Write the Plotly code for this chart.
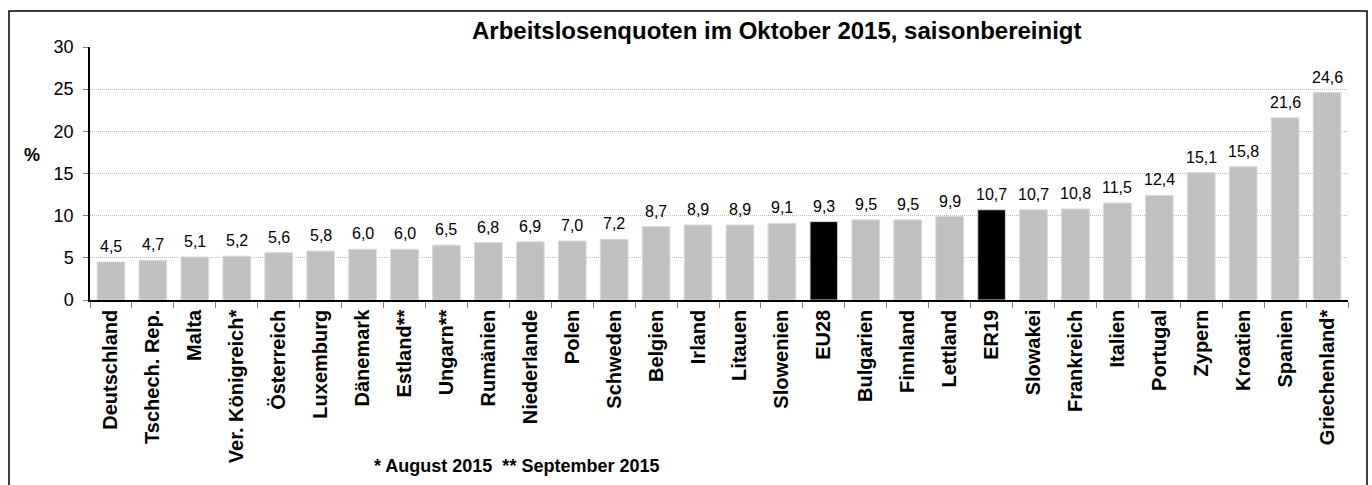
import plotly.graph_objects as go

categories = ["Deutschland", "Tschech. Rep.", "Malta", "Ver. Königreich*", "Österreich",
              "Luxemburg", "Dänemark", "Estland**", "Ungarn**", "Rumänien", "Niederlande",
              "Polen", "Schweden", "Belgien", "Irland", "Litauen", "Slowenien", "EU28",
              "Bulgarien", "Finnland", "Lettland", "ER19", "Slowakei", "Frankreich",
              "Italien", "Portugal", "Zypern", "Kroatien", "Spanien", "Griechenland*"]
values = [4.5, 4.7, 5.1, 5.2, 5.6, 5.8, 6.0, 6.0, 6.5, 6.8, 6.9, 7.0, 7.2, 8.7, 8.9, 8.9,
          9.1, 9.3, 9.5, 9.5, 9.9, 10.7, 10.7, 10.8, 11.5, 12.4, 15.1, 15.8, 21.6, 24.6]
highlight = ["EU28", "ER19"]
title = "Arbeitslosenquoten im Oktober 2015, saisonbereinigt"
footnote = "* August 2015  ** September 2015"

colors = ["#000000" if c in highlight else "#C0C0C0" for c in categories]
FONT = "Liberation Sans, Arial, sans-serif"

fig = go.Figure(go.Bar(
    x=categories, y=values,
    marker=dict(color=colors, line=dict(color="#D9D9D9", width=1)),
    hoverinfo="x+y",
))

value_annotations = [
    dict(x=c, y=v, xref="x", yref="y", text=f"{v:.1f}".replace(".", ","),
         showarrow=False, yanchor="bottom", yshift=5,
         font=dict(family=FONT, size=16, color="#000000"))
    for c, v in zip(categories, values)
]

fig.update_layout(
    width=1372, height=485,
    margin=dict(l=90, r=24, t=47, b=185),
    paper_bgcolor="white", plot_bgcolor="white",
    bargap=0.34,
    showlegend=False,
    font=dict(family=FONT, color="#000000"),
    xaxis=dict(
        tickangle=-90, tickfont=dict(family=FONT, size=20, color="#000000", weight="bold"),
        showline=True, linecolor="#000000", linewidth=1.5,
        ticks="outside", ticklen=6, tickcolor="#808080", tickson="boundaries",
        showgrid=False,
    ),
    yaxis=dict(
        range=[0, 30], dtick=5, tickfont=dict(family=FONT, size=18, color="#000000"),
        showline=True, linecolor="#000000", linewidth=1.5,
        ticks="outside", ticklen=5, tickcolor="#808080",
        showgrid=True, gridcolor="#BDBDBD", griddash="1px,1px", gridwidth=1,
        zeroline=False, ticklabelstandoff=6,
    ),
    shapes=[dict(type="rect", xref="paper", yref="paper",
                 x0=-0.0644, x1=1.0151, y0=-0.76, y1=1.1423,
                 line=dict(color="#000000", width=1.5), fillcolor="rgba(0,0,0,0)", layer="below")],
    annotations=value_annotations + [
        dict(text=f"<b>{title}</b>", xref="paper", yref="paper", x=0.546, y=(300 - 31) / 253,
             xanchor="center", yanchor="middle", showarrow=False,
             font=dict(family=FONT, size=24, color="#000000")),
        dict(text="<b>%</b>", xref="paper", yref="paper", x=(32 - 90) / 1258, y=(300 - 155) / 253,
             xanchor="center", yanchor="middle", showarrow=False,
             font=dict(family=FONT, size=18, color="#000000")),
        dict(text=f"<b>{footnote}</b>", xref="paper", yref="paper", x=(372 - 90) / 1258,
             y=(300 - 466) / 253, xanchor="left", yanchor="middle", showarrow=False,
             font=dict(family=FONT, size=18, color="#000000")),
    ],
)

fig.write_html("out.html", config={"displayModeBar": False},
               post_script="document.body.style.margin='0';document.body.style.padding='0';")
